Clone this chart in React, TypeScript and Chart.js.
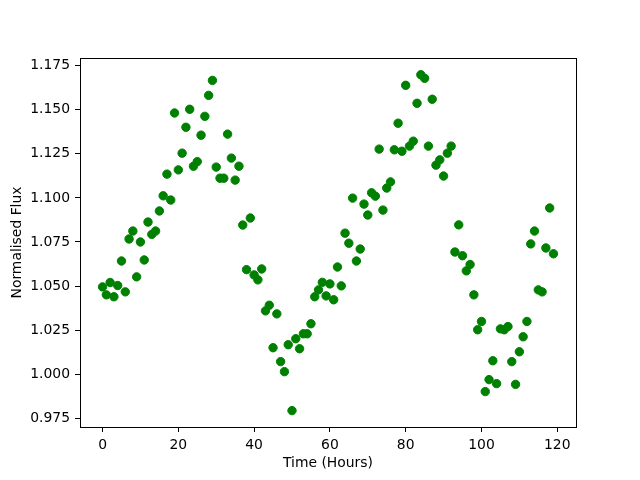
import React, { useEffect, useRef } from "react";
import { Chart, registerables } from "chart.js";

Chart.register(...registerables);

const HOURS: number[] = [
  0, 1, 2, 3, 4, 5, 6, 7, 8, 9, 10, 11, 12, 13, 14, 15, 16, 17, 18, 19,
  20, 21, 22, 23, 24, 25, 26, 27, 28, 29, 30, 31, 32, 33, 34, 35, 36, 37, 38, 39,
  40, 41, 42, 43, 44, 45, 46, 47, 48, 49, 50, 51, 52, 53, 54, 55, 56, 57, 58, 59,
  60, 61, 62, 63, 64, 65, 66, 67, 68, 69, 70, 71, 72, 73, 74, 75, 76, 77, 78, 79,
  80, 81, 82, 83, 84, 85, 86, 87, 88, 89, 90, 91, 92, 93, 94, 95, 96, 97, 98, 99,
  100, 101, 102, 103, 104, 105, 106, 107, 108, 109, 110, 111, 112, 113, 114, 115, 116, 117, 118, 119,
];

const FLUX: number[] = [
  1.0495, 1.045, 1.052, 1.0439, 1.0503, 1.0642, 1.0467, 1.0767, 1.0812, 1.0552,
  1.075, 1.0648, 1.0863, 1.0793, 1.0812, 1.0926, 1.1012, 1.1135, 1.0988, 1.1482,
  1.1159, 1.1254, 1.1401, 1.1503, 1.118, 1.1206, 1.1356, 1.1463, 1.1582, 1.1667,
  1.1175, 1.1112, 1.1112, 1.1362, 1.1226, 1.1101, 1.118, 1.0846, 1.0593, 1.0886,
  1.0563, 1.0535, 1.0597, 1.0359, 1.0391, 1.015, 1.0342, 1.0071, 1.0014, 1.0167,
  0.9793, 1.0201, 1.0144, 1.0229, 1.0229, 1.0286, 1.0439, 1.0478, 1.0521, 1.0444,
  1.0512, 1.0422, 1.0608, 1.0501, 1.08, 1.0743, 1.0999, 1.0642, 1.071, 1.0965,
  1.0903, 1.1029, 1.101, 1.1277, 1.0931, 1.1056, 1.1091, 1.1273, 1.1424, 1.1265,
  1.1639, 1.1294, 1.1322, 1.1537, 1.1699, 1.1679, 1.1294, 1.156, 1.1186, 1.1216,
  1.1124, 1.1254, 1.1294, 1.0693, 1.0847, 1.0672, 1.0586, 1.0622, 1.045, 1.0252,
  1.0299, 0.9901, 0.9969, 1.0076, 0.9946, 1.0257, 1.0252, 1.027, 1.0071, 0.9942,
  1.0127, 1.0212, 1.0299, 1.0739, 1.0812, 1.0478, 1.0467, 1.0716, 1.0943, 1.0683,
];

const X_TICKS: number[] = [0, 20, 40, 60, 80, 100, 120];
const Y_TICKS: number[] = [0.975, 1.0, 1.025, 1.05, 1.075, 1.1, 1.125, 1.15, 1.175];
const X_LABEL = "Time (Hours)";
const Y_LABEL = "Normalised Flux";

const FONT = "'DejaVu Sans', sans-serif";
const FONT_SIZE = 13.9;

const framePlugin = {
  id: "frame",
  afterDraw(chart: any) {
    const { ctx, chartArea } = chart;
    ctx.save();
    ctx.strokeStyle = "#000000";
    ctx.lineWidth = 1;
    ctx.strokeRect(
      Math.round(chartArea.left) + 0.5,
      Math.round(chartArea.top) + 0.5,
      Math.round(chartArea.right - chartArea.left),
      Math.round(chartArea.bottom - chartArea.top)
    );
    ctx.restore();
  },
};

export default function App() {
  const ref = useRef<HTMLCanvasElement | null>(null);

  useEffect(() => {
    if (!ref.current) return;
    const points = HOURS.map((h, i) => ({ x: h, y: FLUX[i] }));
    const chart = new Chart(ref.current, {
      type: "scatter",
      data: {
        datasets: [
          {
            data: points,
            backgroundColor: "#008000",
            borderColor: "#008000",
            borderWidth: 1,
            pointRadius: 4.2,
            pointHoverRadius: 4.2,
          },
        ],
      },
      options: {
        responsive: false,
        animation: false,
        devicePixelRatio: 1,
        layout: { padding: { left: 0, top: 58, right: 64, bottom: 0 } },
        plugins: {
          legend: { display: false },
          tooltip: { enabled: false },
        },
        scales: {
          x: {
            type: "linear",
            min: -5.95,
            max: 124.95,
            afterBuildTicks: (scale: any) => {
              scale.ticks = X_TICKS.map((v) => ({ value: v }));
            },
            afterFit: (scale: any) => {
              scale.height = 53;
            },
            grid: {
              display: true,
              drawOnChartArea: false,
              drawTicks: true,
              tickLength: 5,
              color: "#000000",
              lineWidth: 1,
            },
            border: { display: false },
            ticks: {
              color: "#000000",
              padding: 5,
              maxRotation: 0,
              autoSkip: false,
              font: { family: FONT, size: FONT_SIZE },
              callback: (v: any) => String(v),
            },
            title: {
              display: true,
              text: X_LABEL,
              color: "#000000",
              font: { family: FONT, size: FONT_SIZE },
              padding: { top: 0, bottom: 8.7 },
            },
          },
          y: {
            type: "linear",
            min: 0.97,
            max: 1.1794,
            afterBuildTicks: (scale: any) => {
              scale.ticks = Y_TICKS.map((v) => ({ value: v }));
            },
            afterFit: (scale: any) => {
              scale.width = 80;
            },
            grid: {
              display: true,
              drawOnChartArea: false,
              drawTicks: true,
              tickLength: 5,
              color: "#000000",
              lineWidth: 1,
            },
            border: { display: false },
            ticks: {
              color: "#000000",
              padding: 5,
              autoSkip: false,
              font: { family: FONT, size: FONT_SIZE },
              callback: (v: any) => Number(v).toFixed(3),
            },
            title: {
              display: true,
              text: Y_LABEL,
              color: "#000000",
              font: { family: FONT, size: FONT_SIZE },
              padding: { top: 8.7, bottom: 0 },
            },
          },
        },
      },
      plugins: [framePlugin],
    });
    return () => chart.destroy();
  }, []);

  return (
    <div style={{ position: "absolute", left: 0, top: 0, width: 640, height: 480, background: "#ffffff" }}>
      <canvas ref={ref} width={640} height={480} style={{ width: 640, height: 480, display: "block" }} />
    </div>
  );
}
